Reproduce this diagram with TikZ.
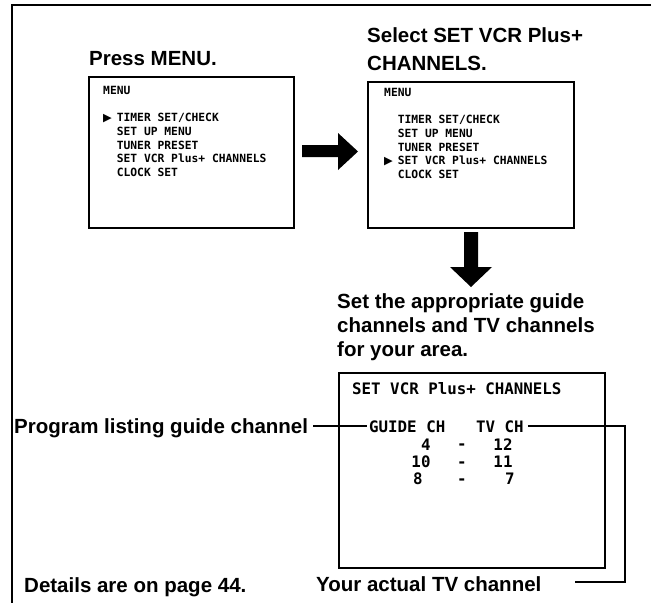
\documentclass[tikz,border=0pt]{standalone}
\usepackage{fontspec}
\setmainfont{Liberation Sans}
\newfontfamily\osd{DejaVu Sans Mono}
\newfontfamily\symf{DejaVu Sans}
\newcommand\ptr{\rlap{\symf ▶}\hphantom{XX}}
\newcommand\ind{\hphantom{XX}}
\tikzset{
  lbl/.style={font=\fontsize{20.5}{24}\selectfont\bfseries, inner sep=0pt, anchor=base west},
  screen/.style={draw, line width=2.2pt, anchor=north west, inner sep=0pt},
  osds/.style={font=\osd\fontsize{11.3}{13.75}\bfseries\selectfont, inner sep=0pt, anchor=base west, align=left},
  osdl/.style={font=\osd\fontsize{15.8}{17}\bfseries\selectfont, inner sep=0pt},
  conn/.style={line width=1.8pt},
  blockarrow/.style={fill=black}
}
\begin{document}
\begin{tikzpicture}[x=1pt,y=-1pt]
\useasboundingbox (0,0) rectangle (654,603);
% open frame
\draw[line width=2pt] (651,5) -- (12,5) -- (12,603);

% step 1
\node[lbl] (t1) at (89,65) {Press MENU.};
\node[screen, minimum width=205pt, minimum height=151pt] (s1) at (88,76) {};
% anchored at the baseline of the last line
\node[osds] (m1) at (103,176.5) {MENU\\[13.75pt]
\ptr TIMER SET/CHECK\\
\ind SET UP MENU\\
\ind TUNER PRESET\\
\ind SET VCR Plus+ CHANNELS\\
\ind CLOCK SET};

% step 2
\node[lbl] (t2a) at (367,42) {Select SET VCR Plus+};
\node[lbl] (t2b) at (367,70) {CHANNELS.};
\node[screen, minimum width=206pt, minimum height=146pt] (s2) at (367,81) {};
\node[osds] (m2) at (384,178.5) {MENU\\[13.75pt]
\ind TIMER SET/CHECK\\
\ind SET UP MENU\\
\ind TUNER PRESET\\
\ptr SET VCR Plus+ CHANNELS\\
\ind CLOCK SET};

% block arrows
\fill[blockarrow] (302,145) -- (338,145) -- (338,133) -- (358,151.5) -- (338,170) -- (338,157) -- (302,157) -- cycle;
\fill[blockarrow] (464,232) -- (478,232) -- (478,267) -- (492,267) -- (471,287) -- (450,267) -- (464,267) -- cycle;

% step 3
\node[lbl] (t3a) at (337,308) {Set the appropriate guide};
\node[lbl] (t3b) at (337,332) {channels and TV channels};
\node[lbl] (t3c) at (337,356) {for your area.};
\node[screen, minimum width=266pt, minimum height=195pt] (s3) at (338,372) {};
\node[osdl, anchor=base west] (title) at (352,394) {SET VCR Plus+ CHANNELS};
\node[osdl, anchor=base west] (guide) at (369,432) {GUIDE CH};
\node[osdl, anchor=base west] (tv) at (476,432) {TV CH};
\node[osdl, anchor=base] (g1) at (426,450) {4};
\node[osdl, anchor=base] (d1) at (462,449) {-};
\node[osdl, anchor=base] (v1) at (503,450) {12};
\node[osdl, anchor=base] (g2) at (421,467) {10};
\node[osdl, anchor=base] (d2) at (462,467) {-};
\node[osdl, anchor=base] (v2) at (503,467) {11};
\node[osdl, anchor=base] (g3) at (418,484) {8};
\node[osdl, anchor=base] (d3) at (462,484) {-};
\node[osdl, anchor=base] (v3) at (510,484) {7};

% callouts
\node[lbl] (prog) at (14,433) {Program listing guide channel};
\node[lbl] (details) at (24,592) {Details are on page 44.};
\node[lbl] (yours) at (316,591) {Your actual TV channel};
\coordinate (yend) at (575,582);
\draw[conn, shorten <=5pt, shorten >=2pt] (prog.east |- guide.west) -- (guide.west);
\draw[conn, shorten <=4pt] (tv.east) -| (yend -| 625,0) -- (yend);
\end{tikzpicture}
\end{document}
